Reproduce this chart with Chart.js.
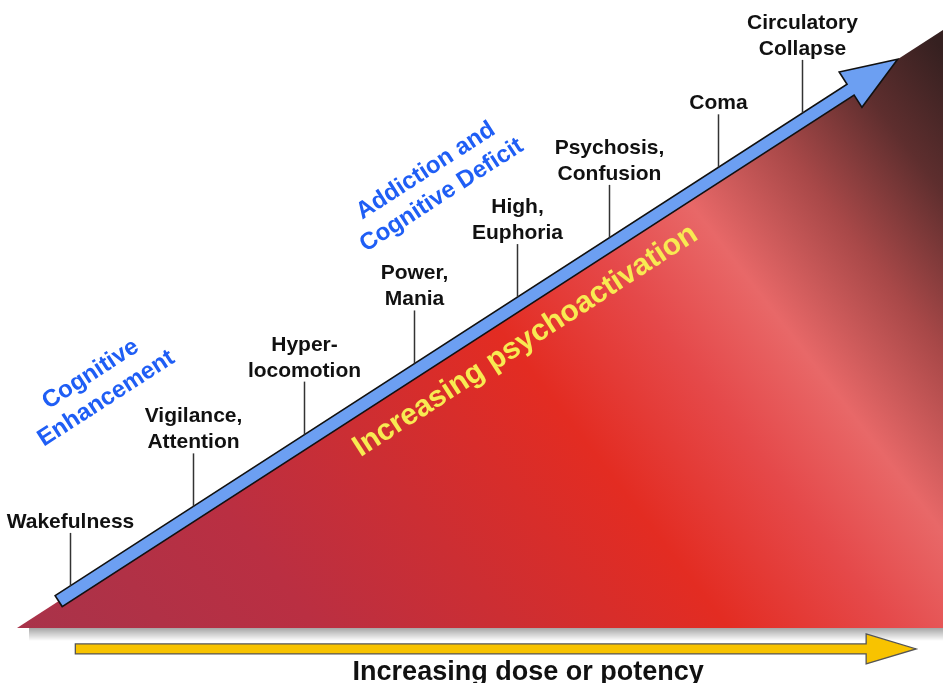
<!DOCTYPE html>
<html>
<head>
<meta charset="utf-8">
<script src="https://cdn.jsdelivr.net/npm/chart.js@4/dist/chart.umd.min.js"></script>
<style>
    html, body { margin: 0; padding: 0; background: #ffffff; }
    #wrap { width: 943px; height: 683px; position: relative; }
</style>
</head>
<body>
<div id="wrap"><canvas id="dosechart"></canvas></div>
<script>
// dose (x) and psychoactivation (y), both 0-100
var doseRange = [0, 100];
var activationRange = [0, 100];

// the blue arrow runs along the hypotenuse from / to these doses
var arrowDose = [4.5, 95.1];
// the yellow dose arrow under the triangle
var doseArrow = [6.3, 97.1];

// effects along the dose axis
var stageLabels = [
    ['Wakefulness'],
    ['Vigilance,', 'Attention'],
    ['Hyper-', 'locomotion'],
    ['Power,', 'Mania'],
    ['High,', 'Euphoria'],
    ['Psychosis,', 'Confusion'],
    ['Coma'],
    ['Circulatory', 'Collapse']
];
var stageDose = [5.7, 19.0, 31.0, 42.9, 54.0, 63.9, 75.7, 84.8];

var regionLabels = [
    ['Cognitive', 'Enhancement'],
    ['Addiction and', 'Cognitive Deficit']
];
var activationTitle = 'Increasing psychoactivation';
var doseTitle = 'Increasing dose or potency';

var FONT = "'Liberation Sans', Arial, Helvetica, sans-serif";

// red fill of the triangle
function triangleFill(context) {
    var chart = context.chart;
    var area = chart.chartArea;
    if (!area) {
        return '#d03030';
    }
    var w = area.right - area.left;
    var h = area.bottom - area.top;
    var g = chart.ctx.createLinearGradient(
        area.left - 0.336 * w, area.top + 0.328 * h,
        area.left + 0.596 * w, area.top - 0.781 * h
    );
    g.addColorStop(0, '#a8334a');
    g.addColorStop(0.22, '#ba2f42');
    g.addColorStop(0.36, '#cc2e33');
    g.addColorStop(0.52, '#e32c22');
    g.addColorStop(0.64, '#e5494a');
    g.addColorStop(0.73, '#e86868');
    g.addColorStop(0.83, '#a84848');
    g.addColorStop(0.92, '#5e2e2e');
    g.addColorStop(1, '#352020');
    return g;
}

var diagramPlugin = {
    id: 'diagram',
    beforeDatasetsDraw: function (chart) {
        var ctx = chart.ctx;
        var area = chart.chartArea;
        // soft shadow under the base of the triangle
        var sg = ctx.createLinearGradient(0, area.bottom, 0, area.bottom + 13);
        sg.addColorStop(0, 'rgba(0,0,0,0.35)');
        sg.addColorStop(1, 'rgba(0,0,0,0)');
        ctx.save();
        ctx.fillStyle = sg;
        ctx.fillRect(area.left + 12, area.bottom, area.right - area.left - 12, 13);
        ctx.restore();
    },
    afterDatasetsDraw: function (chart) {
        var ctx = chart.ctx;
        var xs = chart.scales.x;
        var ys = chart.scales.y;
        function px(v) { return xs.getPixelForValue(v); }
        function py(v) { return ys.getPixelForValue(v); }

        var ang = Math.atan2(py(activationRange[1]) - py(activationRange[0]), px(doseRange[1]) - px(doseRange[0]));

        // blue arrow along the hypotenuse
        var x0 = px(arrowDose[0]), y0 = py(arrowDose[0]);
        var x1 = px(arrowDose[1]), y1 = py(arrowDose[1]);
        var len = Math.hypot(x1 - x0, y1 - y0);
        ctx.save();
        ctx.translate(x0, y0);
        ctx.rotate(ang);
        ctx.beginPath();
        ctx.moveTo(0, -6.5);
        ctx.lineTo(len - 56, -6.5);
        ctx.lineTo(len - 56, -21);
        ctx.lineTo(len, 0);
        ctx.lineTo(len - 56, 21);
        ctx.lineTo(len - 56, 6.5);
        ctx.lineTo(0, 6.5);
        ctx.closePath();
        ctx.fillStyle = '#6c9ff2';
        ctx.fill();
        ctx.lineWidth = 1.6;
        ctx.strokeStyle = '#111111';
        ctx.lineJoin = 'miter';
        ctx.stroke();
        ctx.restore();

        // stems and effect labels
        ctx.save();
        ctx.font = 'bold 21px ' + FONT;
        ctx.textAlign = 'center';
        ctx.textBaseline = 'alphabetic';
        ctx.fillStyle = '#111111';
        ctx.strokeStyle = '#333333';
        ctx.lineWidth = 1.5;
        for (var i = 0; i < stageDose.length; i++) {
            var sx = Math.round(px(stageDose[i])) + 0.5;
            var sy = py(stageDose[i]);
            ctx.beginPath();
            ctx.moveTo(sx, sy - 8);
            ctx.lineTo(sx, sy - 61);
            ctx.stroke();
            var lines = stageLabels[i];
            for (var j = 0; j < lines.length; j++) {
                var base = sy - 66 - (lines.length - 1 - j) * 26;
                ctx.fillText(lines[j], sx, base);
            }
        }
        ctx.restore();

        // rotated region labels (blue) and activation title (yellow)
        function rotatedText(lines, cx, cy, font, color, lh) {
            ctx.save();
            ctx.translate(px(cx), py(cy));
            ctx.rotate(ang);
            ctx.font = font;
            ctx.fillStyle = color;
            ctx.textAlign = 'center';
            ctx.textBaseline = 'middle';
            var off = -(lines.length - 1) * lh / 2;
            for (var k = 0; k < lines.length; k++) {
                ctx.fillText(lines[k], 0, off + k * lh);
            }
            ctx.restore();
        }
        rotatedText(regionLabels[0], 8.8, 40.4, 'bold 24px ' + FONT, '#1f5ef5', 29);
        rotatedText(regionLabels[1], 45.0, 74.4, 'bold 24px ' + FONT, '#1f5ef5', 29);
        rotatedText([activationTitle], 54.9, 48.0, 'bold 30px ' + FONT, '#f8ea52', 30);

        // yellow dose arrow under the triangle
        var ay = py(-3.5);
        var ax0 = px(doseArrow[0]), ax1 = px(doseArrow[1]);
        ctx.save();
        ctx.beginPath();
        ctx.moveTo(ax0, ay - 5);
        ctx.lineTo(ax1 - 50, ay - 5);
        ctx.lineTo(ax1 - 50, ay - 15);
        ctx.lineTo(ax1, ay);
        ctx.lineTo(ax1 - 50, ay + 15);
        ctx.lineTo(ax1 - 50, ay + 5);
        ctx.lineTo(ax0, ay + 5);
        ctx.closePath();
        ctx.fillStyle = '#f8c300';
        ctx.fill();
        ctx.lineWidth = 1.3;
        ctx.strokeStyle = '#555555';
        ctx.stroke();

        ctx.font = 'bold 27px ' + FONT;
        ctx.fillStyle = '#111111';
        ctx.textAlign = 'center';
        ctx.textBaseline = 'alphabetic';
        ctx.fillText(doseTitle, px(55.2), py(-8.7));
        ctx.restore();
    }
};

var dosechart = document.getElementById('dosechart').getContext('2d');
var chart = new Chart(dosechart, {
    type: 'line',
    data: {
        datasets: [
            {
                label: 'Psychoactivation',
                data: doseRange.map(function (d, i) { return { x: d, y: activationRange[i] }; }),
                backgroundColor: triangleFill,
                borderWidth: 0,
                fill: 'origin',
                pointRadius: 0,
                tension: 0
            }
        ]
    },
    options: {
        responsive: true,
        maintainAspectRatio: false,
        animation: false,
        events: [],
        layout: {
            padding: { left: 17, right: 0, top: 30, bottom: 55 }
        },
        plugins: {
            legend: { display: false },
            tooltip: { enabled: false },
            title: { display: false }
        },
        scales: {
            x: { type: 'linear', min: 0, max: 100, display: false },
            y: { type: 'linear', min: 0, max: 100, display: false }
        }
    },
    plugins: [diagramPlugin]
});
</script>
</body>
</html>
